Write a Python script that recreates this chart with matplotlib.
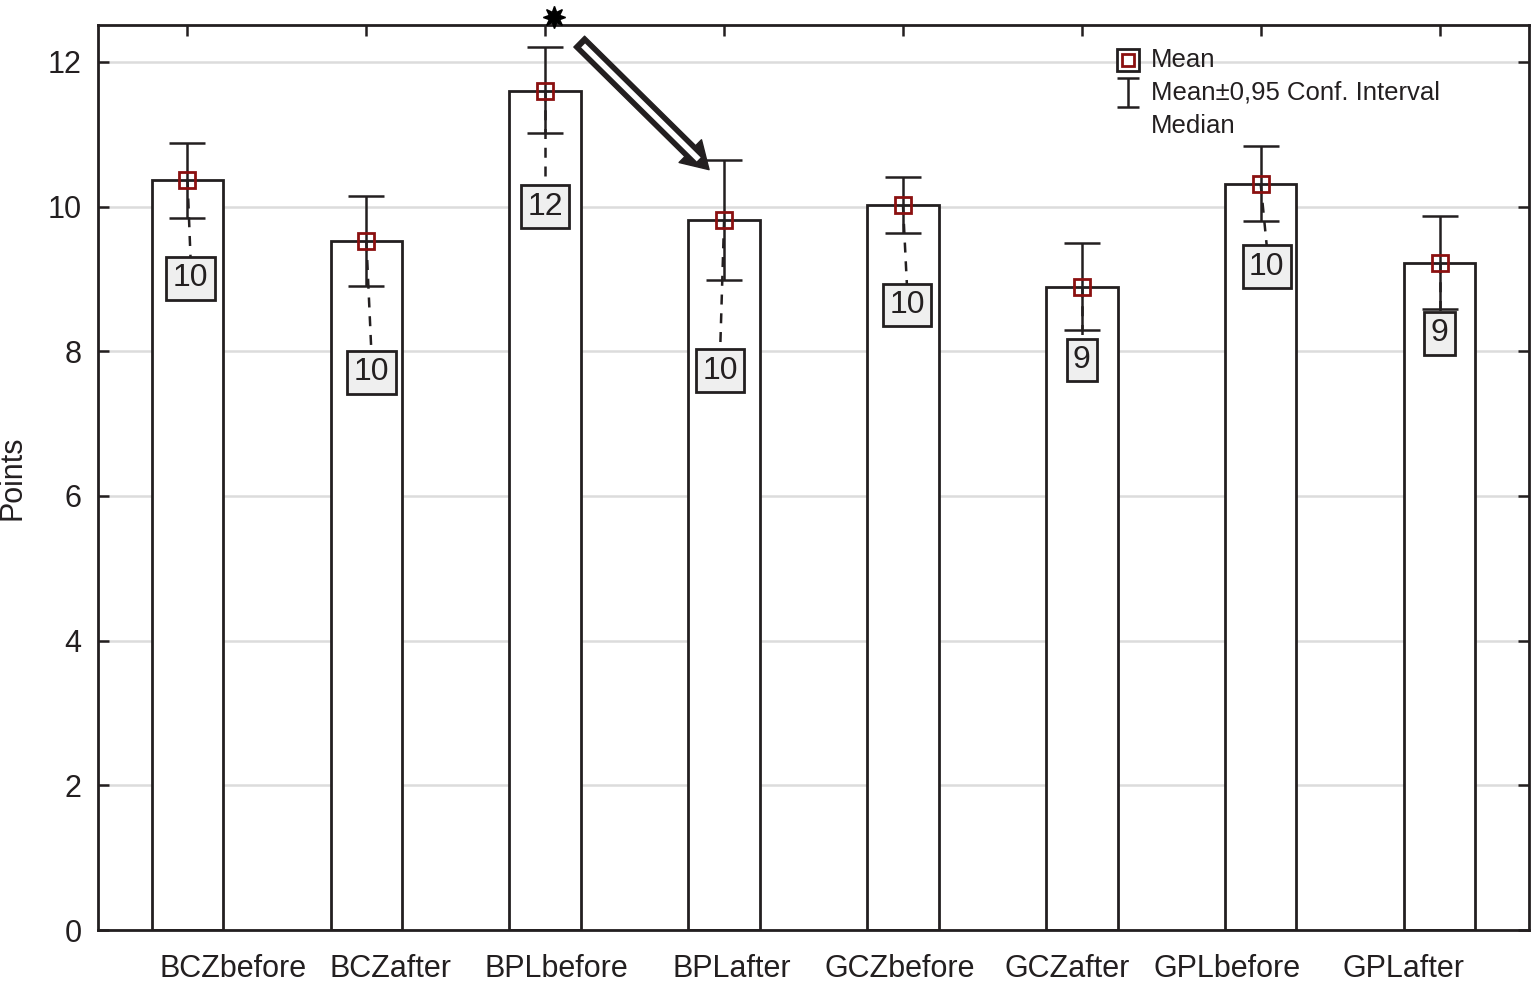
import numpy as np
import matplotlib
matplotlib.use("Agg")
import matplotlib.pyplot as plt

plt.rcParams['font.family'] = ['Liberation Sans', 'DejaVu Sans']

# data
groups = ['BCZbefore', 'BCZafter', 'BPLbefore', 'BPLafter',
          'GCZbefore', 'GCZafter', 'GPLbefore', 'GPLafter']
means = [10.37, 9.52, 11.60, 9.82, 10.02, 8.89, 10.31, 9.22]
ci_high = [10.88, 10.15, 12.21, 10.65, 10.41, 9.50, 10.84, 9.87]
ci_low = [9.84, 8.90, 11.02, 8.99, 9.64, 8.29, 9.80, 8.59]
medians = [10, 10, 12, 10, 10, 9, 10, 9]

# layout of the median boxes and group labels
box_y = [9.01, 7.71, 10.0, 7.73, 8.64, 7.88, 9.17, 8.25]
box_dx = [0.017, 0.028, 0.0, -0.022, 0.022, 0.0, 0.034, 0.0]
label_shift = [0.257, 0.134, 0.06, 0.045, -0.02, -0.08, -0.19, -0.20]

ink = '#231f20'
red = '#8b1010'

fig = plt.figure(figsize=(15.37, 9.83), dpi=100)
ax = fig.add_axes([0.0638, 0.0539, 0.9310, 0.9207])

x = np.arange(len(groups))
means_a = np.array(means)
lo = means_a - np.array(ci_low)
hi = np.array(ci_high) - means_a

ax.set_axisbelow(True)
ax.yaxis.grid(True, color='#dcdcdc', lw=1.8)

ax.bar(x, means, width=0.4, color='white', edgecolor=ink, linewidth=2, zorder=2)

# dashed line from mean to median box
for i in range(len(groups)):
    ax.plot([x[i], x[i] + box_dx[i]], [means[i], box_y[i] + 0.28],
            ls=(0, (4, 3.5)), color=ink, lw=1.8, zorder=3)

ax.errorbar(x, means, yerr=[lo, hi], fmt='none', ecolor=ink, elinewidth=1.8,
            capsize=13, capthick=1.8, zorder=4)
ax.plot(x, means, 's', mfc='none', mec=red, ms=12, mew=2, zorder=5)

for i in range(len(groups)):
    ax.text(x[i] + box_dx[i], box_y[i], str(medians[i]), ha='center', va='center',
            fontsize=23, color=ink, zorder=6,
            bbox=dict(boxstyle='square,pad=0.2', fc='#efefef', ec=ink, lw=2))

# significance star and arrow
ax.plot([2.05], [12.62], marker=(8, 1, 0), ms=16, color='black', clip_on=False, zorder=7)
tail = (2.19, 12.28)
tip = (2.916, 10.51)
ax.annotate('', xy=tip, xytext=tail, annotation_clip=False,
            arrowprops=dict(arrowstyle='simple,head_length=0.95,head_width=1.15,tail_width=0.55',
                            mutation_scale=20, fc=ink, ec=ink, lw=1, shrinkA=0, shrinkB=0))
wx0 = tail[0] + 0.03 * (tip[0] - tail[0])
wy0 = tail[1] + 0.03 * (tip[1] - tail[1])
wx1 = tail[0] + 0.92 * (tip[0] - tail[0])
wy1 = tail[1] + 0.92 * (tip[1] - tail[1])
ax.plot([wx0, wx1], [wy0, wy1], color='white', lw=4, solid_capstyle='butt',
        clip_on=False, zorder=8)

ax.set_xlim(-0.5, 7.5)
ax.set_ylim(0, 12.51)
ax.set_yticks([0, 2, 4, 6, 8, 10, 12])
ax.set_xticks(x + np.array(label_shift))
ax.set_xticklabels(groups)
ax.set_xticks(x, minor=True)
ax.tick_params(axis='x', which='major', length=0, pad=17, labelsize=22, colors=ink)
ax.tick_params(axis='x', which='minor', direction='in', length=8, width=1.8,
               top=True, bottom=True, color=ink)
ax.tick_params(axis='y', direction='in', length=8, width=1.8, right=True,
               pad=12, labelsize=22, colors=ink)
for s in ax.spines.values():
    s.set_linewidth(2)
    s.set_color(ink)

ax.set_ylabel('Points', fontsize=22, color=ink, labelpad=14)

# legend drawn by hand
t = ax.transAxes
ax.plot([0.7198], [0.9613], 's', ms=16, mfc='white', mec=ink, mew=2, transform=t, zorder=9)
ax.plot([0.7198], [0.9613], 's', ms=8, mfc='none', mec=red, mew=2, transform=t, zorder=10)
ax.errorbar([0.7198], [0.9249], yerr=[[0.016], [0.016]], fmt='none', ecolor=ink,
            elinewidth=1.8, capsize=8, capthick=1.8, transform=t, zorder=9)
ax.text(0.7358, 0.9613, 'Mean', transform=t, fontsize=18.5, va='center', color=ink)
ax.text(0.7358, 0.9249, 'Mean\u00b10,95 Conf. Interval', transform=t, fontsize=18.5,
        va='center', color=ink)
ax.text(0.7358, 0.8884, 'Median', transform=t, fontsize=18.5, va='center', color=ink)

fig.savefig('out.png', dpi=100)
